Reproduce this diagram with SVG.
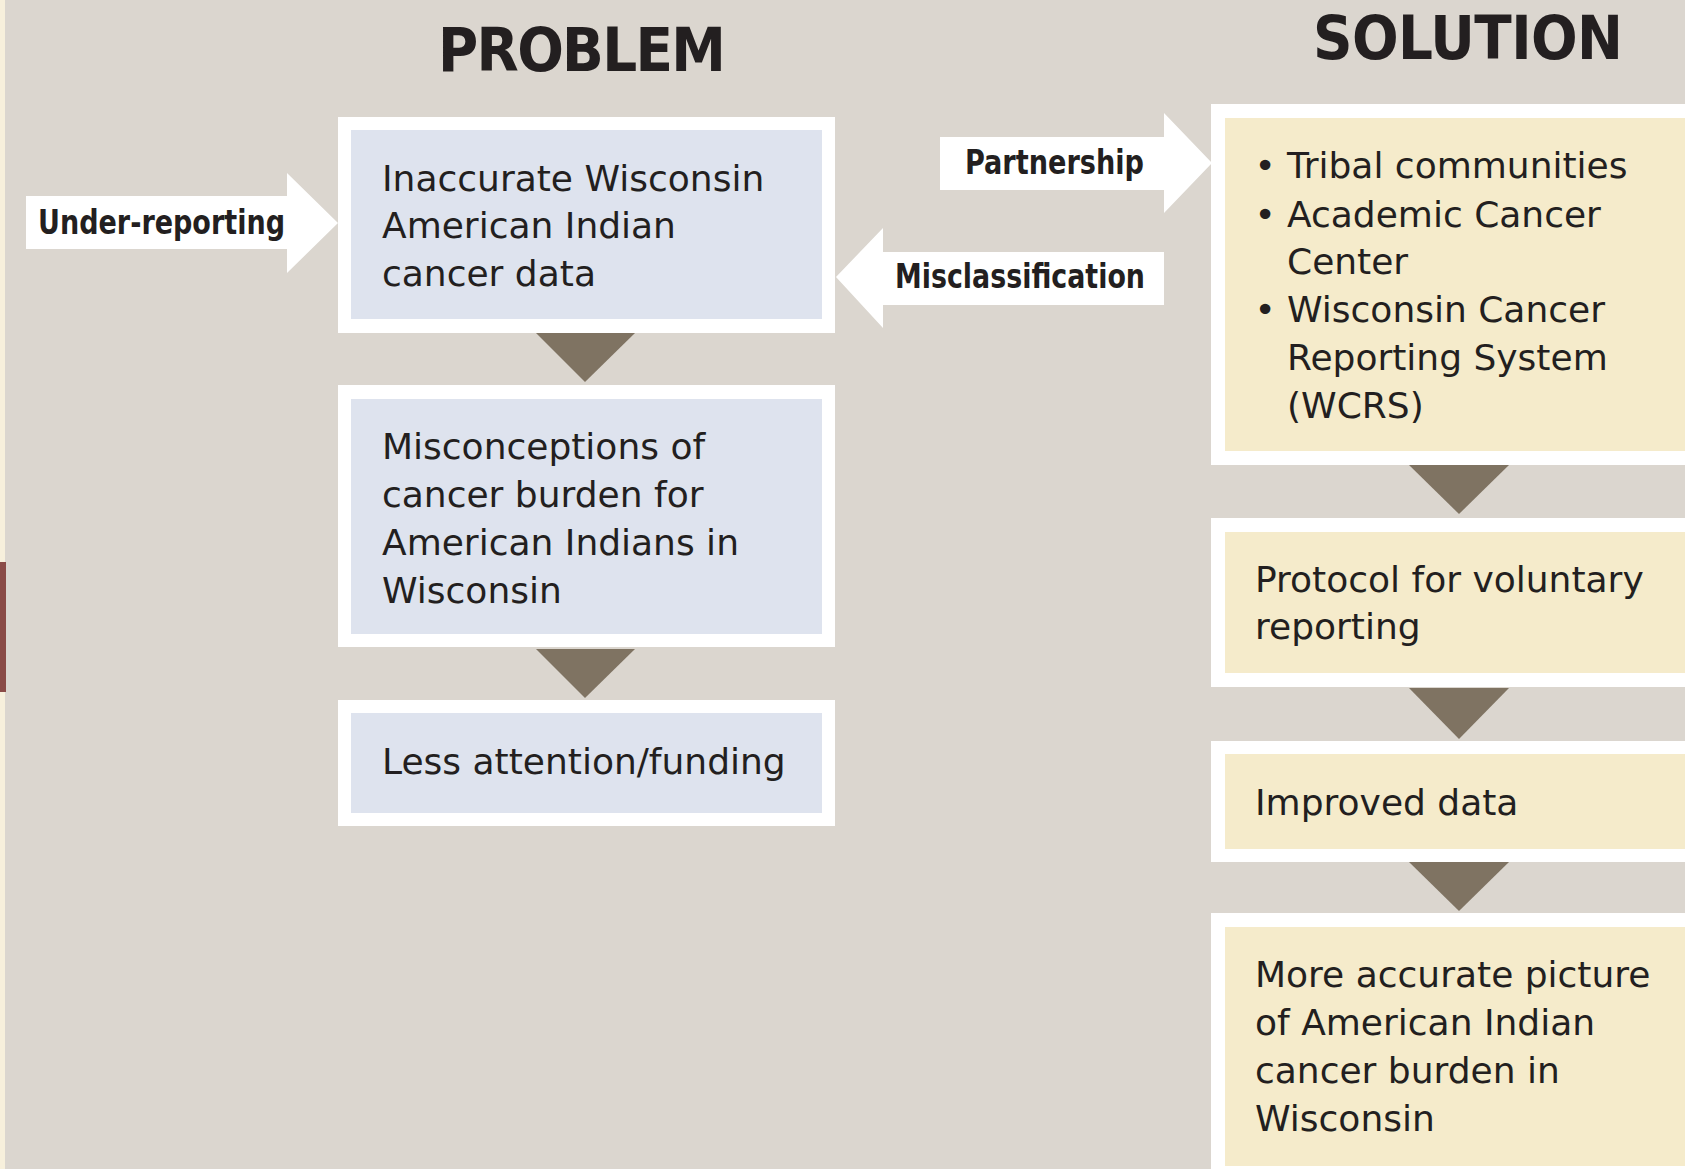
<svg xmlns="http://www.w3.org/2000/svg" width="1685" height="1169" viewBox="0 0 1685 1169">
<style>
.bg{fill:#dbd6cf}
.outer{fill:#ffffff}
.inP{fill:#dee3ee}
.inS{fill:#f5ebcb}
.tri{fill:#7f7362}
.arw{fill:#ffffff}
.txt{font-family:'DejaVu Sans',Verdana,sans-serif;font-size:36px;fill:#231f20}
.lbl{font-family:'DejaVu Sans Condensed','DejaVu Sans',sans-serif;font-stretch:condensed;font-weight:bold;font-size:34px;fill:#231f20}
.title{font-family:'DejaVu Sans Condensed','DejaVu Sans',sans-serif;font-stretch:condensed;font-weight:bold;font-size:61px;fill:#231f20}
</style>
<rect class="bg" x="0" y="0" width="1685" height="1169"/>
<rect x="0" y="0" width="5" height="1169" fill="#f7f0dc"/>
<rect x="0" y="562" width="6" height="130" fill="#8a4b47"/>

<text class="title" x="438" y="71" textLength="288" lengthAdjust="spacing">PROBLEM</text>
<text class="title" x="1313" y="59" textLength="310" lengthAdjust="spacing">SOLUTION</text>

<g id="connectors">
  <polygon class="tri" points="536,333 635,333 585,382"/>
  <polygon class="tri" points="536,649 635,649 585,698"/>
  <polygon class="tri" points="1409,465 1509,465 1459,514"/>
  <polygon class="tri" points="1409,688 1509,688 1459,739"/>
  <polygon class="tri" points="1409,862 1509,862 1459,911"/>
  <g id="arrow-underreporting">
    <polygon class="arw" points="26,196 287,196 287,173 338,223 287,273 287,249 26,249"/>
    <text class="lbl" x="38" y="234" textLength="247" lengthAdjust="spacingAndGlyphs">Under-reporting</text>
  </g>
  <g id="arrow-partnership">
    <polygon class="arw" points="940,137 1164,137 1164,113 1212,163 1164,213 1164,190 940,190"/>
    <text class="lbl" x="965" y="174" textLength="179" lengthAdjust="spacingAndGlyphs">Partnership</text>
  </g>
  <g id="arrow-misclassification">
    <polygon class="arw" points="1164,252 883,252 883,228 836,277 883,328 883,305 1164,305"/>
    <text class="lbl" x="895" y="288" textLength="250" lengthAdjust="spacingAndGlyphs">Misclassification</text>
  </g>
</g>

<g id="p1">
  <rect class="outer" x="338" y="117" width="497" height="216"/>
  <rect class="inP" x="351" y="130" width="471" height="189"/>
  <text class="txt" x="382" y="191">Inaccurate Wisconsin</text>
  <text class="txt" x="382" y="238">American Indian</text>
  <text class="txt" x="382" y="286">cancer data</text>
</g>
<g id="p2">
  <rect class="outer" x="338" y="385" width="497" height="262"/>
  <rect class="inP" x="351" y="399" width="471" height="235"/>
  <text class="txt" x="382" y="459">Misconceptions of</text>
  <text class="txt" x="382" y="507">cancer burden for</text>
  <text class="txt" x="382" y="555">American Indians in</text>
  <text class="txt" x="382" y="603">Wisconsin</text>
</g>
<g id="p3">
  <rect class="outer" x="338" y="700" width="497" height="126"/>
  <rect class="inP" x="351" y="713" width="471" height="100"/>
  <text class="txt" x="382" y="774">Less attention/funding</text>
</g>

<g id="s1">
  <rect class="outer" x="1211" y="104" width="500" height="361"/>
  <rect class="inS" x="1225" y="118" width="480" height="333"/>
  <text class="txt" x="1265" y="178" text-anchor="middle">•</text>
  <text class="txt" x="1287" y="178">Tribal communities</text>
  <text class="txt" x="1265" y="227" text-anchor="middle">•</text>
  <text class="txt" x="1287" y="227">Academic Cancer</text>
  <text class="txt" x="1287" y="274">Center</text>
  <text class="txt" x="1265" y="322" text-anchor="middle">•</text>
  <text class="txt" x="1287" y="322">Wisconsin Cancer</text>
  <text class="txt" x="1287" y="370">Reporting System</text>
  <text class="txt" x="1287" y="418">(WCRS)</text>
</g>
<g id="s2">
  <rect class="outer" x="1211" y="518" width="500" height="169"/>
  <rect class="inS" x="1225" y="532" width="480" height="141"/>
  <text class="txt" x="1255" y="592">Protocol for voluntary</text>
  <text class="txt" x="1255" y="639">reporting</text>
</g>
<g id="s3">
  <rect class="outer" x="1211" y="741" width="500" height="121"/>
  <rect class="inS" x="1225" y="754" width="480" height="95"/>
  <text class="txt" x="1255" y="815">Improved data</text>
</g>
<g id="s4">
  <rect class="outer" x="1211" y="913" width="500" height="270"/>
  <rect class="inS" x="1225" y="927" width="480" height="239"/>
  <text class="txt" x="1255" y="987">More accurate picture</text>
  <text class="txt" x="1255" y="1035">of American Indian</text>
  <text class="txt" x="1255" y="1083">cancer burden in</text>
  <text class="txt" x="1255" y="1131">Wisconsin</text>
</g>
</svg>
